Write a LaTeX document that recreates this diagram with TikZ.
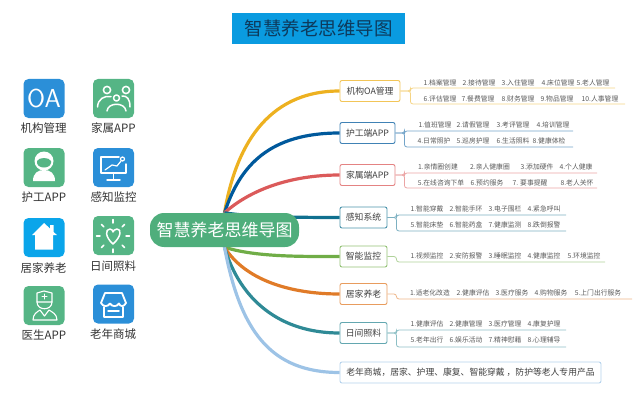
\documentclass[tikz,border=0pt]{standalone}
\usepackage{fontspec}
\setmainfont{Noto Sans CJK SC}
\usetikzlibrary{backgrounds}
\definecolor{cGold}{HTML}{EDB120}
\definecolor{cNavy}{HTML}{00599C}
\definecolor{cRed}{HTML}{DB5A5A}
\definecolor{cSea}{HTML}{10708F}
\definecolor{cLeaf}{HTML}{70AD47}
\definecolor{cOrange}{HTML}{E07B28}
\definecolor{cTeal}{HTML}{2F8A96}
\definecolor{cSky}{HTML}{9DC3E6}
\definecolor{cIconBlue}{HTML}{2B8FD8}
\definecolor{cIconGreen}{HTML}{55B585}
\definecolor{cHouse}{HTML}{0AA5EA}
\definecolor{cTitle}{HTML}{0A9BE0}
\definecolor{cTitleText}{HTML}{0D3A5C}
\definecolor{cRoot}{HTML}{4FAE7C}
\tikzset{
  branchbox/.style={draw=#1!75!white, fill=white, line width=0.9pt, rounded corners=2pt, inner sep=0pt, minimum height=21pt, text=black!75, font=\fontsize{8.8}{10}\selectfont},
  curve/.style={draw=#1, line width=3.2pt},
  twig/.style={draw=#1!55!white, line width=0.8pt, rounded corners=2.5pt},
  leaf/.style={inner sep=0pt, text=black!65, font=\fontsize{6.8}{8}\selectfont},
  iconbox/.style={fill=#1, rounded corners=5pt, minimum width=41pt, minimum height=39pt, inner sep=0pt},
  iconlabel/.style={inner sep=0pt, text=black!80, font=\fontsize{11.5}{13}\selectfont},
  glyph/.style={draw=white, line width=1.5pt, line cap=round, line join=round},
}
\begin{document}
\begin{tikzpicture}[x=1pt, y=-1pt]
\useasboundingbox (0,0) rectangle (640,412);
% title and root
\node[fill=cTitle, minimum width=173pt, minimum height=31pt, inner sep=0pt, text=cTitleText, font=\fontsize{18.5}{21}\selectfont] (title) at (318.5,28.5) {智慧养老思维导图};
\node[fill=cRoot, rounded corners=14pt, minimum width=149pt, minimum height=34pt, inner sep=0pt, text=white, font=\fontsize{17}{19}\selectfont] (root) at (224.5,230) {智慧养老思维导图};

% branch boxes
\node[branchbox=cGold, minimum width=60pt] (oa) at (370,91) {机构OA管理};
\node[branchbox=cNavy, minimum width=55pt] (nurse) at (367.5,133) {护工端APP};
\node[branchbox=cRed, minimum width=55pt] (family) at (367.5,175) {家属端APP};
\node[branchbox=cSea, minimum width=47pt] (sense) at (363.5,217.5) {感知系统};
\node[branchbox=cLeaf, minimum width=47pt] (monitor) at (363.5,256.5) {智能监控};
\node[branchbox=cOrange, minimum width=47pt] (home) at (363.5,294) {居家养老};
\node[branchbox=cTeal, minimum width=47pt] (day) at (363.5,333) {日间照料};
\node[branchbox=cSky, minimum width=261pt] (shop) at (470.5,372.5) {老年商城，居家、护理、康复、智能穿戴 ，防护等老人专用产品};

% curves from the root
\begin{pgfonlayer}{background}
\draw[curve=cGold] (root.north) .. controls (235,150) and (265,91) .. (oa.west);
\draw[curve=cNavy] (root.north) .. controls (240,165) and (270,133) .. (nurse.west);
\draw[curve=cRed] (root.north) .. controls (250,190) and (290,175) .. (family.west);
\draw[curve=cSea] (root.north) .. controls (250,217) and (300,217.5) .. (sense.west);
\draw[curve=cLeaf] (root.south) .. controls (255,257) and (300,256.5) .. (monitor.west);
\draw[curve=cOrange] (root.south) .. controls (245,280) and (290,294) .. (home.west);
\draw[curve=cTeal] (root.south) .. controls (240,300) and (280,333) .. (day.west);
\draw[curve=cSky] (root.south) .. controls (240,330) and (270,372.5) .. (shop.west);
\end{pgfonlayer}

% line ends of the rows
\coordinate (oaA) at (615,88);
\coordinate (oaB) at (625,104);
\coordinate (nurseA) at (573,131);
\coordinate (nurseB) at (573,147);
\coordinate (familyA) at (597,173);
\coordinate (familyB) at (597,188);
\coordinate (senseA) at (566,215);
\coordinate (senseB) at (566,231);
\coordinate (monitorA) at (605,262);
\coordinate (homeA) at (632,299);
\coordinate (dayA) at (566,330);
\coordinate (dayB) at (566,347);

\draw[twig=cGold] (oa.east) -- ++(10,0) |- (oaA);
\draw[twig=cGold] (oa.east) -- ++(10,0) |- (oaB);
\draw[twig=cNavy] (nurse.east) -- ++(9,0) |- (nurseA);
\draw[twig=cNavy] (nurse.east) -- ++(9,0) |- (nurseB);
\draw[twig=cRed] (family.east) -- ++(9,0) |- (familyA);
\draw[twig=cRed] (family.east) -- ++(9,0) |- (familyB);
\draw[twig=cSea] (sense.east) -- ++(9,0) |- (senseA);
\draw[twig=cSea] (sense.east) -- ++(9,0) |- (senseB);
\draw[twig=cLeaf] (monitor.east) -- ++(9,0) |- (monitorA);
\draw[twig=cOrange] (home.east) -- ++(9,0) |- (homeA);
\draw[twig=cTeal] (day.east) -- ++(9,0) |- (dayA);
\draw[twig=cTeal] (day.east) -- ++(9,0) |- (dayB);

% row texts
\foreach \x/\t in {440/1.档案管理,479/2.接待管理,518/3.入住管理,558/4.床位管理,593/5.老人管理}
  \node[leaf] (oaA\x) at (\x,83) {\t};
\foreach \x/\t in {440/6.评估管理,478/7.餐费管理,518/8.财务管理,557/9.物品管理,600/10.人事管理}
  \node[leaf] (oaB\x) at (\x,99) {\t};
\foreach \x/\t in {435/1.值班管理,473/2.请假管理,513/3.考评管理,553/4.培训管理}
  \node[leaf] (nurseA\x) at (\x,125) {\t};
\foreach \x/\t in {434/4.日常照护,473/5.巡房护理,513/6.生活照料,549/8.健康体检}
  \node[leaf] (nurseB\x) at (\x,141) {\t};
\foreach \x/\t in {438/1.亲情圈创建,490/2.亲人健康圈,537/3.添加硬件,576/4.个人健康}
  \node[leaf] (familyA\x) at (\x,167) {\t};
\foreach \x/\t in {441/5.在线咨询下单,487/6.预约服务,530/7. 要事提醒,577/8.老人关怀}
  \node[leaf] (familyB\x) at (\x,183) {\t};
\foreach \x/\t in {427/1.智能穿戴,466/2.智能手环,505/3.电子围栏,544/4.紧急呼叫}
  \node[leaf] (senseA\x) at (\x,209) {\t};
\foreach \x/\t in {427/5.智能床垫,466/6.智能药盒,505/7.健康监测,544/8.跌倒报警}
  \node[leaf] (senseB\x) at (\x,225) {\t};
\foreach \x/\t in {427/1.视频监控,466/2.安防报警,505/3.睡眠监控,544/4.健康监控,584/5.环境监控}
  \node[leaf] (monitorA\x) at (\x,256) {\t};
\foreach \x/\t in {430/1.适老化改造,473/2.健康评估,512/3.医疗服务,551/4.购物服务,598/5.上门出行服务}
  \node[leaf] (homeA\x) at (\x,293) {\t};
\foreach \x/\t in {427/1.健康评估,466/2.健康管理,505/3.医疗管理,544/4.康复护理}
  \node[leaf] (dayA\x) at (\x,324) {\t};
\foreach \x/\t in {427/5.老年出行,466/6.娱乐活动,505/7.精神慰藉,544/8.心理辅导}
  \node[leaf] (dayB\x) at (\x,340) {\t};

% icons on the left
\node[iconbox=cIconBlue, text=white, font=\fontsize{26}{28}\sffamily] (icoOA) at (44,98.5) {OA};
\node[iconbox=cIconGreen] (icoFamily) at (113.5,98.5) {};
\node[iconbox=cIconGreen] (icoNurse) at (44,167.5) {};
\node[iconbox=cIconBlue] (icoSense) at (113.5,167.5) {};
\node[iconbox=cHouse] (icoHome) at (44,237.5) {};
\node[iconbox=cIconGreen] (icoDay) at (113.5,235.5) {};
\node[iconbox=cIconGreen] (icoDoctor) at (44,305.5) {};
\node[iconbox=cIconBlue] (icoShop) at (113.5,304) {};

\node[iconlabel] (labOA) at (43.5,128.5) {机构管理};
\node[iconlabel] (labFamily) at (113.5,128.5) {家属APP};
\node[iconlabel] (labNurse) at (44,197) {护工APP};
\node[iconlabel] (labSense) at (113.5,197) {感知监控};
\node[iconlabel] (labHome) at (43.5,268) {居家养老};
\node[iconlabel] (labDay) at (113,266) {日间照料};
\node[iconlabel] (labDoctor) at (44,335) {医生APP};
\node[iconlabel] (labShop) at (113,334) {老年商城};

% family glyph
\draw[glyph] (107,90) circle (3.6);
\draw[glyph] (126,90) circle (3.6);
\draw[glyph] (116.5,98) circle (3);
\draw[glyph] (97.5,107) .. controls (98,99) and (104,95.5) .. (111,96.5);
\draw[glyph] (130,107) .. controls (130,99) and (127,95.5) .. (122,96);
\draw[glyph] (107,111) .. controls (108,102) and (125,102) .. (126,111);
% nurse glyph
\fill[white] (44,161) circle (9.5);
\fill[cIconGreen] (37,161) .. controls (39,157) and (49,157) .. (51,161) -- (51,163) .. controls (50,169) and (38,169) .. (37,163) -- cycle;
\fill[white] (33,181) .. controls (33,173) and (38,170) .. (44,170) .. controls (50,170) and (55,173) .. (55,181) -- cycle;
% monitor glyph
\draw[glyph] (119,157) -- (101,157) -- (101,173) -- (126,173) -- (126,164);
\draw[glyph] (113.5,173) -- (113.5,179) (107,180) -- (120,180);
\draw[glyph, line width=1.2pt] (105,170) -- (112,165) -- (117,166) -- (121,161);
\draw[glyph, line width=1.2pt] (122.5,159) circle (2);
% house glyph
\fill[white] (32,235) -- (44,223) -- (50,228.5) -- (50,225) -- (53.5,225) -- (53.5,232) -- (57,235) -- (53,235) -- (53,249.5) -- (35,249.5) -- (35,235) -- cycle;
% sun glyph
\draw[glyph] (113,244) .. controls (105,237) and (105,229) .. (110,229) .. controls (112,229) and (113,231) .. (113,232) .. controls (113,231) and (115,229) .. (117,229) .. controls (122,229) and (121,237) .. (113,244) -- cycle;
\foreach \a in {0,45,...,315}
  \draw[glyph] (113,236) ++(\a:13) -- ++(\a:3.5);
% doctor glyph
\draw[glyph, line width=1.1pt] (37,302) -- (37,293) -- (44,291) -- (52,293) -- (52,302) -- cycle;
\draw[glyph, line width=1pt] (42,296.5) -- (47,296.5) (44.5,294) -- (44.5,299);
\draw[glyph, line width=1.1pt] (37,302) .. controls (37,311) and (52,311) .. (52,302);
\draw[glyph, line width=1.1pt] (33,320) .. controls (33,314) and (37,312) .. (40,310) -- (44.5,316) -- (49,310) .. controls (52,312) and (57,314) .. (57,320) -- cycle;
% shop glyph
\draw[glyph, line width=1.8pt] (105,293) -- (122,293) -- (126,303) .. controls (124,307) and (120,307) .. (119,303.5) .. controls (117,307) and (112,307) .. (110,303.5) .. controls (108,307) and (103,307) .. (101,303) -- cycle;
\draw[glyph, line width=1.8pt] (104,307) -- (104,317) -- (123,317) -- (123,307);
\draw[glyph, line width=1.5pt] (108,311) -- (119,311);
\end{tikzpicture}
\end{document}
